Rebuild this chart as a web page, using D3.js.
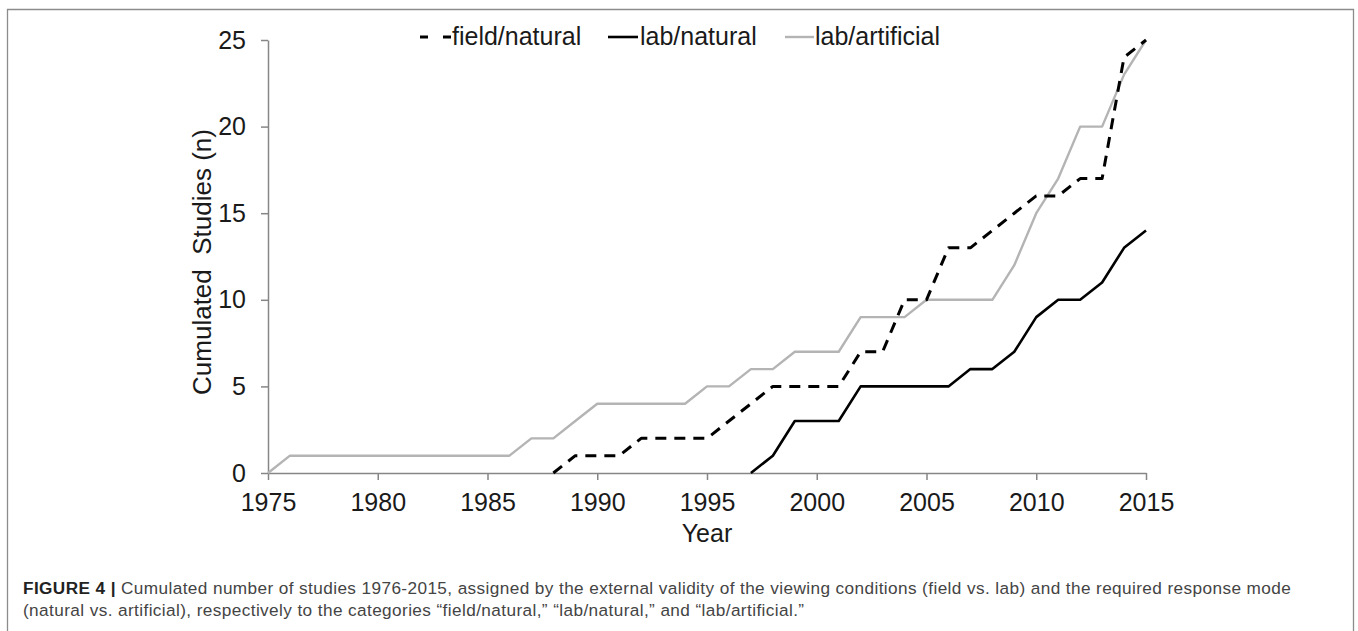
<!DOCTYPE html>
<html>
<head>
<meta charset="utf-8">
<script src="https://cdn.jsdelivr.net/npm/d3@7"></script>
<style>
  body { margin: 0; background: #fff; }
  svg { display: block; font-family: "Liberation Sans", Arial, sans-serif; }
</style>
</head>
<body>
<div id="chart"></div>
<script>
// years 1975..2015, null = series not started yet
const years = d3.range(1975, 2016);
const fieldNatural = [
  null, null, null, null, null, null, null, null, null, null, null, null, null,
  0, 1, 1, 1, 2, 2, 2, 2, 3, 4, 5, 5, 5, 5, 7, 7, 10, 10, 13, 13, 14, 15, 16, 16, 17, 17, 24, 25
];
const labNatural = [
  null, null, null, null, null, null, null, null, null, null, null,
  null, null, null, null, null, null, null, null, null, null, null,
  0, 1, 3, 3, 3, 5, 5, 5, 5, 5, 6, 6, 7, 9, 10, 10, 11, 13, 14
];
const labArtificial = [
  0, 1, 1, 1, 1, 1, 1, 1, 1, 1, 1, 1, 2, 2, 3, 4, 4, 4, 4, 4, 5,
  5, 6, 6, 7, 7, 7, 9, 9, 9, 10, 10, 10, 10, 12, 15, 17, 20, 20, 23, 25
];
const seriesNames = ['field/natural', 'lab/natural', 'lab/artificial'];
const xTicks = [1975, 1980, 1985, 1990, 1995, 2000, 2005, 2010, 2015];
const yTicks = [0, 5, 10, 15, 20, 25];

const width = 1358, height = 631;
const axisColor = '#868686';

const svg = d3.select('#chart').append('svg')
  .attr('width', width)
  .attr('height', height);

// 外框
svg.append('path')
  .attr('d', `M7.5,${height} V9.5 H1353.5 V${height}`)
  .attr('fill', 'none')
  .attr('stroke', '#8c8c8c')
  .attr('stroke-width', 1.3);

const x = d3.scaleLinear().domain([1975, 2015]).range([268, 1146]);
const y = d3.scaleLinear().domain([0, 25]).range([473, 40]);

// 座標軸
const xAxis = d3.axisBottom(x).tickValues(xTicks).tickFormat(d3.format('d'))
  .tickSizeInner(7).tickSizeOuter(0).tickPadding(13);
const yAxis = d3.axisLeft(y).tickValues(yTicks)
  .tickSizeInner(7).tickSizeOuter(0).tickPadding(15);

const gx = svg.append('g').attr('transform', `translate(0,${y(0)})`).call(xAxis);
const gy = svg.append('g').attr('transform', `translate(${x(1975)},0)`).call(yAxis);

[gx, gy].forEach(g => {
  g.selectAll('path, line').attr('stroke', axisColor).attr('stroke-width', 1.5);
  g.selectAll('text').attr('fill', '#1a1a1a').attr('font-size', 25)
    .attr('font-family', '"Liberation Sans", Arial, sans-serif');
});

// 軸標題
svg.append('text')
  .attr('x', x(1995)).attr('y', 542)
  .attr('text-anchor', 'middle')
  .attr('font-size', 25).attr('fill', '#1a1a1a')
  .text('Year');

svg.append('text')
  .attr('transform', 'translate(211,262) rotate(-90)')
  .attr('text-anchor', 'middle')
  .style('white-space', 'pre')
  .attr('font-size', 26).attr('fill', '#1a1a1a')
  .text('Cumulated  Studies (n)');

// 線條
const styles = [
  { values: fieldNatural, stroke: '#000', width: 3, dash: '11,8' },
  { values: labNatural, stroke: '#000', width: 2.6, dash: null },
  { values: labArtificial, stroke: '#b4b4b4', width: 2.4, dash: null }
];

const line = d3.line()
  .defined(d => d.value !== null)
  .x(d => x(d.year))
  .y(d => y(d.value));

// draw gray first so black sits on top
[2, 1, 0].forEach(i => {
  const s = styles[i];
  const pts = years.map((yr, j) => ({ year: yr, value: s.values[j] }));
  svg.append('path')
    .datum(pts)
    .attr('fill', 'none')
    .attr('stroke', s.stroke)
    .attr('stroke-width', s.width)
    .attr('stroke-dasharray', s.dash)
    .attr('stroke-linejoin', 'round')
    .attr('d', line);
});

// 圖例
const legendPos = [
  { x0: 420, x1: 451, tx: 452 },
  { x0: 608, x1: 638, tx: 640 },
  { x0: 785, x1: 814, tx: 815 }
];
seriesNames.forEach((name, i) => {
  const p = legendPos[i], s = styles[i];
  svg.append('line')
    .attr('x1', p.x0).attr('x2', p.x1)
    .attr('y1', 37).attr('y2', 37)
    .attr('stroke', s.stroke)
    .attr('stroke-width', s.width)
    .attr('stroke-dasharray', s.dash ? '8,15' : null);
  svg.append('text')
    .attr('x', p.tx).attr('y', 45)
    .attr('font-size', 25).attr('fill', '#1a1a1a')
    .text(name);
});

// 圖說
const caption = svg.append('text')
  .attr('font-family', '"Liberation Sans", Arial, sans-serif')
  .attr('font-size', 17.2).attr('letter-spacing', 0.4).attr('fill', '#444');
const l1 = caption.append('tspan').attr('x', 23).attr('y', 594);
l1.append('tspan').attr('font-weight', 'bold').attr('fill', '#222').text('FIGURE 4 | ');
l1.append('tspan').text('Cumulated number of studies 1976-2015, assigned by the external validity of the viewing conditions (field vs. lab) and the required response mode');
caption.append('tspan').attr('x', 23).attr('y', 616)
  .text('(natural vs. artificial), respectively to the categories \u201cfield/natural,\u201d \u201clab/natural,\u201d and \u201clab/artificial.\u201d');
</script>
</body>
</html>
